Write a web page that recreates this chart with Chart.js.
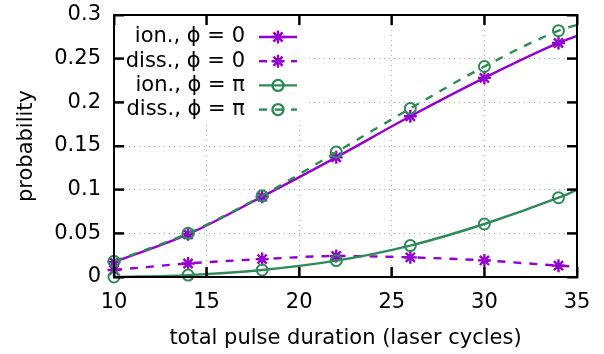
<!DOCTYPE html>
<html>
<head>
<meta charset="utf-8">
<script src="https://cdn.jsdelivr.net/npm/chart.js@4.4.1/dist/chart.umd.min.js"></script>
<style>
  html, body { margin: 0; padding: 0; background: #fff; }
</style>
</head>
<body>
<canvas id="myChart" width="604" height="354"></canvas>
<script>
"use strict"

// pulse durations where the probabilities were computed
const cycles = [10, 14, 18, 22, 26, 30, 34]
// the curves carry on to the right edge of the frame
const x_end = 35

const ion_phi0 = [0.017, 0.049, 0.092, 0.137, 0.184, 0.228, 0.268]
const diss_phi0 = [0.008, 0.0155, 0.0205, 0.024, 0.0225, 0.019, 0.013]
const ion_phipi = [0.0, 0.0022, 0.008, 0.0187, 0.036, 0.0607, 0.0908]
const diss_phipi = [0.018, 0.050, 0.093, 0.143, 0.193, 0.241, 0.282]
// value of each curve at x_end (ion 0, diss 0, ion pi, diss pi)
const end_values = [0.276, 0.0118, 0.0997, 0.2887]

const labels = ["ion., \u03d5 = 0", "diss., \u03d5 = 0", "ion., \u03d5 = \u03c0", "diss., \u03d5 = \u03c0"]

const x_ticks = [10, 15, 20, 25, 30, 35]
const y_ticks = [0, 0.05, 0.1, 0.15, 0.2, 0.25, 0.3]
const y_tick_labels = ["0", "0.05", "0.1", "0.15", "0.2", "0.25", "0.3"]

const purple = "#9400d3"
const green = "#2e8b57"
const FONT = "'DejaVu Sans', sans-serif"
const FONT_SIZE = 21

Chart.defaults.font.family = FONT
Chart.defaults.font.size = FONT_SIZE
Chart.defaults.color = "#000"

function series(values, end){
  let pts = cycles.map((c, i) => ({x: c, y: values[i]}))
  pts.push({x: x_end, y: end})
  return pts
}

function marker_size(style){
  return style === "star" ? 6.5 : 5.5
}

function make_set(i, values, color, style, dashed){
  return {
    label: labels[i],
    data: series(values, end_values[i]),
    borderColor: color,
    backgroundColor: "rgba(0,0,0,0)",
    borderWidth: 2.4,
    borderDash: dashed ? [8, 8] : [],
    pointStyle: style,
    pointRadius: (c) => (c.raw && c.raw.x === x_end) ? 0 : marker_size(style),
    pointBorderWidth: style === "star" ? 2.4 : 2,
    pointBorderColor: color,
    pointBackgroundColor: "rgba(0,0,0,0)",
    cubicInterpolationMode: "monotone",
    clip: false,
    order: 3 - i
  }
}

// zero-size axes that only draw the black frame and the inward tick marks,
// on a layer above the datasets
function frame_axis(axis, position){
  const tick_values = axis === "x" ? x_ticks : y_ticks
  return {
    type: "linear",
    axis: axis,
    position: position,
    min: axis === "x" ? 10 : 0,
    max: axis === "x" ? 35 : 0.3,
    weight: -1,
    afterBuildTicks: (s) => { s.ticks = tick_values.map(v => ({value: v})) },
    afterFit: (s) => {
      if(s.isHorizontal()) s.height = 0
      else s.width = 0
      s.paddingTop = 0; s.paddingBottom = 0; s.paddingLeft = 0; s.paddingRight = 0
    },
    ticks: { display: false },
    grid: { display: true, drawOnChartArea: false, drawTicks: true, tickLength: -10, tickColor: "#000", tickWidth: 2, z: 1 },
    border: { display: true, color: "#000", width: 2, z: 1 },
    title: { display: false }
  }
}

const LEGEND_BOX = {x1: 115, y1: 16, x2: 307, y2: 121}

function draw_frame(chart){
  const ctx = chart.ctx
  const a = chart.chartArea
  const sx = chart.scales.x
  const sy = chart.scales.y
  ctx.save()
  ctx.fillStyle = "#000"
  ctx.fillRect(a.left - 1, a.top - 1, a.right - a.left + 2, 2)
  ctx.fillRect(a.left - 1, a.bottom - 1, a.right - a.left + 2, 2)
  ctx.fillRect(a.left - 1, a.top - 1, 2, a.bottom - a.top + 2)
  ctx.fillRect(a.right - 1, a.top - 1, 2, a.bottom - a.top + 2)
  for(let v of x_ticks){
    let px = sx.getPixelForValue(v)
    ctx.fillRect(px - 1, a.bottom - 10, 2, 10)
    ctx.fillRect(px - 1, a.top, 2, 10)
  }
  for(let v of y_ticks){
    let py = sy.getPixelForValue(v)
    ctx.fillRect(a.left, py - 1, 10, 2)
    ctx.fillRect(a.right - 10, py - 1, 10, 2)
  }
  ctx.restore()
}

function draw_key(chart){
  const ctx = chart.ctx
  ctx.save()
  ctx.font = FONT_SIZE + "px " + FONT
  ctx.textAlign = "right"
  ctx.textBaseline = "middle"
  chart.data.datasets.forEach((ds, i) => {
    let y = 37 + i * 24.2
    ctx.fillStyle = "#000"
    ctx.fillText(ds.label, 245, y)
    ctx.strokeStyle = ds.borderColor
    ctx.lineWidth = ds.borderWidth
    ctx.setLineDash(ds.borderDash)
    ctx.beginPath()
    ctx.moveTo(259, y); ctx.lineTo(297, y)
    ctx.stroke()
    ctx.setLineDash([])
    ctx.fillStyle = "rgba(0,0,0,0)"
    Chart.helpers.drawPoint(ctx, {pointStyle: ds.pointStyle, rotation: 0, radius: marker_size(ds.pointStyle), borderWidth: ds.pointBorderWidth}, 278, y)
  })
  ctx.restore()
}

const keyPlugin = {
  id: "key",
  beforeDatasetsDraw(chart){
    const ctx = chart.ctx
    ctx.save()
    // white key box covers the grid
    ctx.fillStyle = "#fff"
    ctx.fillRect(LEGEND_BOX.x1, LEGEND_BOX.y1, LEGEND_BOX.x2 - LEGEND_BOX.x1, LEGEND_BOX.y2 - LEGEND_BOX.y1)
    ctx.restore()
  },
  afterDraw(chart){
    draw_frame(chart)
    draw_key(chart)
  }
}

const graph = new Chart(document.getElementById("myChart"), {
  type: "line",
  data: {
    datasets: [
      make_set(0, ion_phi0, purple, "star", false),
      make_set(1, diss_phi0, purple, "star", true),
      make_set(2, ion_phipi, green, "circle", false),
      make_set(3, diss_phipi, green, "circle", true)
    ]
  },
  options: {
    responsive: false,
    animation: false,
    layout: { padding: { top: 15, right: 27, left: 0, bottom: 0 } },
    plugins: { legend: { display: false }, tooltip: { enabled: false } },
    scales: {
      x: {
        type: "linear",
        min: 10,
        max: 35,
        afterBuildTicks: (s) => { s.ticks = x_ticks.map(v => ({value: v})) },
        afterFit: (s) => { s.height = 77; s.paddingLeft = 0; s.paddingRight = 0 },
        ticks: { padding: 13, callback: (v) => String(v), maxRotation: 0 },
        grid: { color: "#a8a8a8", lineWidth: 1, drawTicks: false },
        border: { display: false, dash: [1, 4] },
        title: { display: true, text: "total pulse duration (laser cycles)", padding: { top: 0, bottom: 3 } }
      },
      y: {
        type: "linear",
        min: 0,
        max: 0.3,
        afterBuildTicks: (s) => { s.ticks = y_ticks.map(v => ({value: v})) },
        afterFit: (s) => { s.width = 114; s.paddingTop = 0; s.paddingBottom = 0 },
        ticks: { padding: 13, callback: (v) => y_tick_labels[y_ticks.indexOf(v)] },
        grid: { color: "#a8a8a8", lineWidth: 1, drawTicks: false },
        border: { display: false, dash: [1, 4] },
        title: { display: true, text: "probability", padding: { top: 14.4, bottom: 0 } }
      },
      frame_bottom: frame_axis("x", "bottom"),
      frame_top: frame_axis("x", "top"),
      frame_left: frame_axis("y", "left"),
      frame_right: frame_axis("y", "right")
    }
  },
  plugins: [keyPlugin]
})
</script>
</body>
</html>
